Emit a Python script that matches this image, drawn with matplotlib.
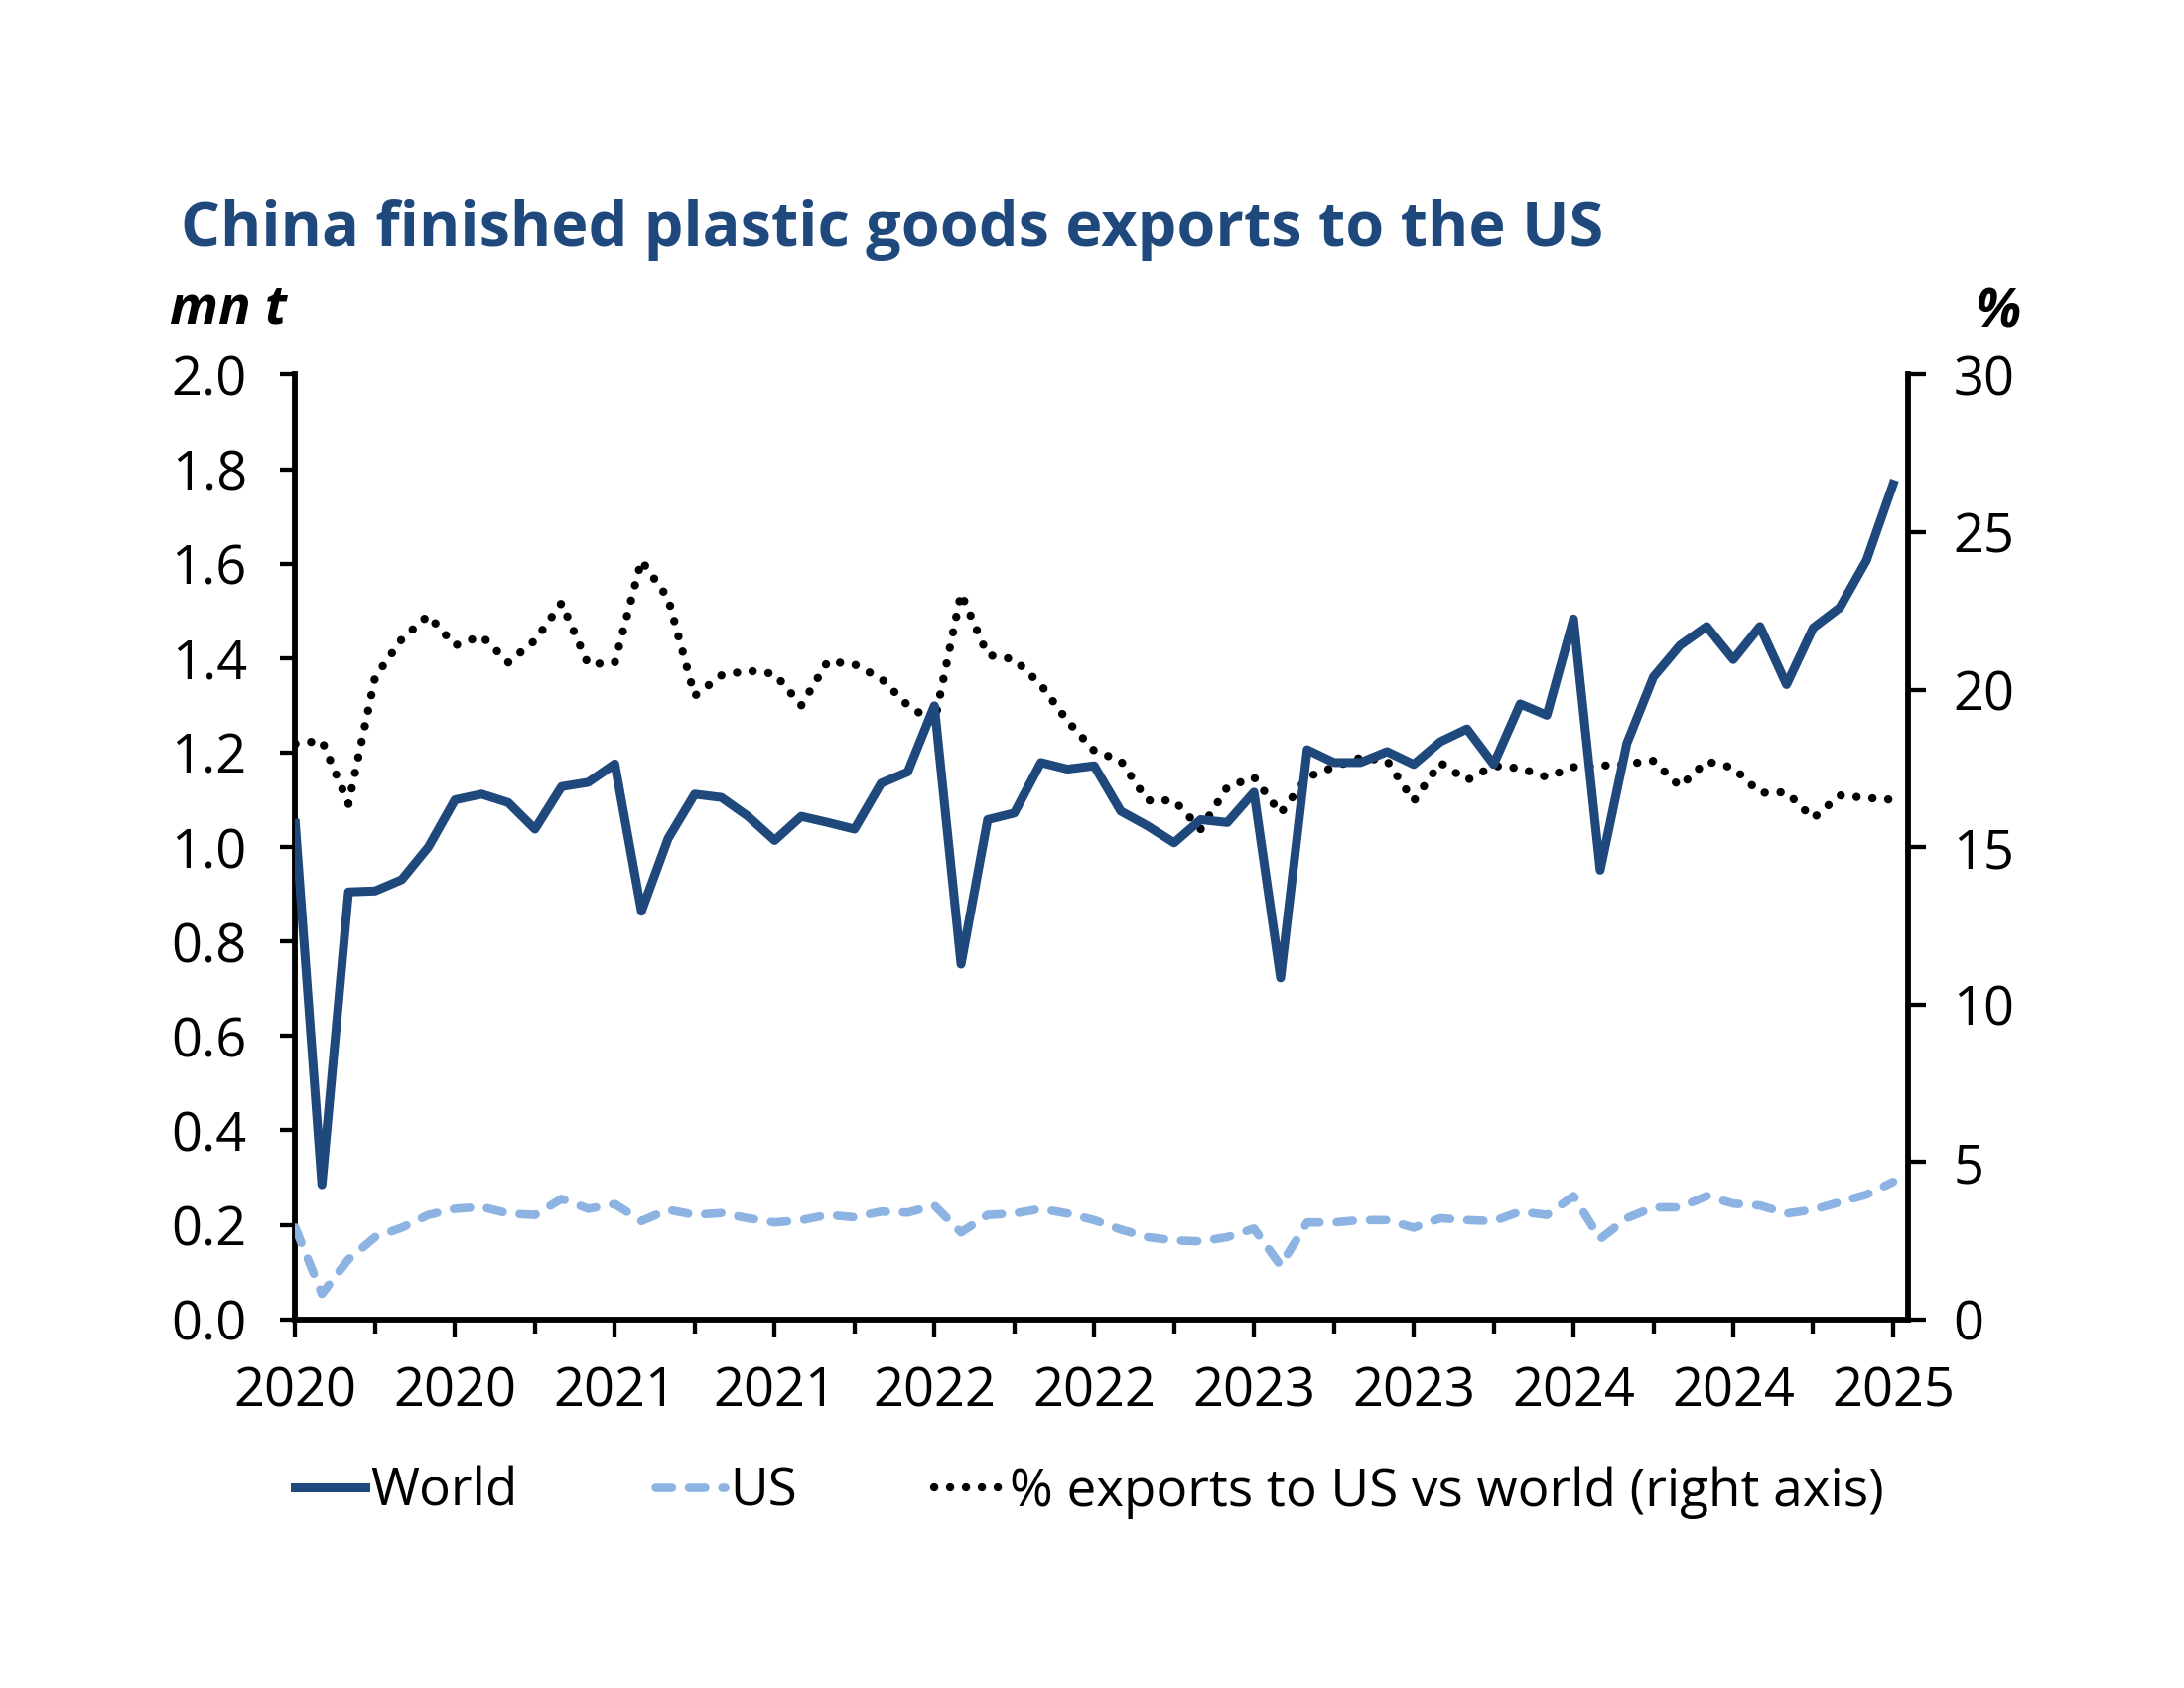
import numpy as np
import matplotlib
matplotlib.use("Agg")
from matplotlib import pyplot as plt
from matplotlib.lines import Line2D

# monthly data, Jan 2020 .. Jan 2025
world = [1.05, 0.285, 0.905, 0.907, 0.931, 1.0, 1.10, 1.112, 1.094, 1.038,
         1.128, 1.137, 1.176, 0.864, 1.018, 1.112, 1.105, 1.065, 1.014, 1.065,
         1.052, 1.038, 1.135, 1.159, 1.299, 0.752, 1.058, 1.072, 1.179, 1.165,
         1.172, 1.076, 1.045, 1.009, 1.058, 1.052, 1.116, 0.723, 1.206, 1.179,
         1.179, 1.202, 1.175, 1.223, 1.25, 1.175, 1.303, 1.279, 1.483, 0.951,
         1.219, 1.36, 1.427, 1.467, 1.397, 1.467, 1.344, 1.464, 1.507, 1.607,
         1.768]
us = [0.194, 0.054, 0.127, 0.174, 0.194, 0.221, 0.234, 0.238, 0.224, 0.221,
      0.255, 0.234, 0.244, 0.208, 0.232, 0.221, 0.225, 0.214, 0.205, 0.21,
      0.221, 0.216, 0.228, 0.226, 0.241, 0.184, 0.221, 0.224, 0.234, 0.224,
      0.21, 0.19, 0.174, 0.167, 0.165, 0.174, 0.192, 0.114, 0.205, 0.205,
      0.21, 0.21, 0.194, 0.214, 0.21, 0.208, 0.228, 0.221, 0.261, 0.17,
      0.214, 0.237, 0.237, 0.261, 0.245, 0.241, 0.224, 0.232, 0.248, 0.264,
      0.291]
pct_us = [18.28, 18.38, 16.37, 20.4, 21.6, 22.36, 21.4, 21.7, 20.86, 21.56,
          22.75, 20.8, 20.86, 24.1, 22.9, 19.8, 20.45, 20.6, 20.5, 19.5,
          20.9, 20.8, 20.35, 19.5, 18.95, 23.05, 21.1, 20.96, 20.15, 19.0,
          18.06, 17.74, 16.48, 16.48, 15.57, 16.9, 17.22, 16.07, 17.22, 17.54,
          17.84, 17.74, 16.46, 17.68, 17.12, 17.58, 17.5, 17.22, 17.54, 17.58,
          17.64, 17.74, 16.92, 17.72, 17.52, 16.72, 16.74, 15.91, 16.64, 16.56,
          16.5]
tick_labels = ['2020', '2020', '2021', '2021', '2022', '2022',
               '2023', '2023', '2024', '2024', '2025']

navy = '#1F497D'
light = '#8DB3E2'
plt.rcParams['font.family'] = 'Open Sans'
fs = 39

months = np.arange(len(world))

fig = plt.figure(figsize=(22, 17), dpi=100)
ax = fig.add_axes([0.1352, 0.2184, 0.8735 - 0.1352, 0.778 - 0.2184])
ax2 = ax.twinx()

dash_us = (0, (1.9, 2.0))
dot_pct = (0, (0.02, 1.9))

ax.plot(months, world, color=navy, lw=6.5, zorder=3)
ax.plot(months, us, color=light, lw=6.2, linestyle=dash_us,
        dash_capstyle='round', zorder=3)
ax2.plot(months, pct_us, color='black', lw=6, linestyle=dot_pct,
         dash_capstyle='round')

# left-axis lines drawn over the right-axis line
ax.set_zorder(ax2.get_zorder() + 1)
ax.patch.set_visible(False)

ax.set_xlim(0, 60.55)
ax.set_ylim(0, 2.0)
ax2.set_ylim(0, 30)
yt = np.arange(0, 2.01, 0.2)
ax.set_yticks(yt)
ax.set_yticklabels(['%.1f' % v for v in yt])
ax2.set_yticks(range(0, 31, 5))
ax.set_xticks(np.arange(0, 61, 6))
ax.set_xticklabels(tick_labels)
ax.set_xticks(np.arange(3, 61, 6), minor=True)

for a in (ax, ax2):
    a.spines['top'].set_visible(False)
    for s in a.spines.values():
        s.set_linewidth(4.2)
ax.spines['right'].set_visible(False)
ax2.spines['left'].set_visible(False)
ax2.spines['bottom'].set_visible(False)

ax.tick_params(axis='y', direction='out', length=11, width=3.1, labelsize=fs, pad=24)
ax.tick_params(axis='x', which='major', direction='out', length=13, width=3.1,
               labelsize=fs, pad=20)
ax.tick_params(axis='x', which='minor', direction='out', length=10, width=3.1)
ax2.tick_params(axis='y', direction='out', length=13, width=3.1, labelsize=fs, pad=20)

fig.text(0.0829, 0.854, 'China finished plastic goods exports to the US',
         color=navy, fontsize=45.3, fontweight='bold', va='baseline')
fig.text(0.0778, 0.8168, 'mn t', fontsize=fs, fontweight='bold',
         fontstyle='italic', va='center')
fig.text(0.9045, 0.8143, '%', fontsize=fs, fontweight='bold',
         fontstyle='italic', va='center')

handles = [
    Line2D([], [], color=navy, lw=6.5),
    Line2D([], [], color=light, lw=6.2, linestyle=dash_us, dash_capstyle='round'),
    Line2D([], [], color='black', lw=6, linestyle=dot_pct, dash_capstyle='round'),
]
fig.legend(handles, ['World', 'US', '% exports to US vs world (right axis)'],
           loc='center left', bbox_to_anchor=(0.1352, 0.116), ncol=3,
           frameon=False, fontsize=38.2, handlelength=1.33, handletextpad=0.1,
           columnspacing=2.6, borderaxespad=0, borderpad=0)

fig.savefig('out.png', dpi=100, facecolor='white')
